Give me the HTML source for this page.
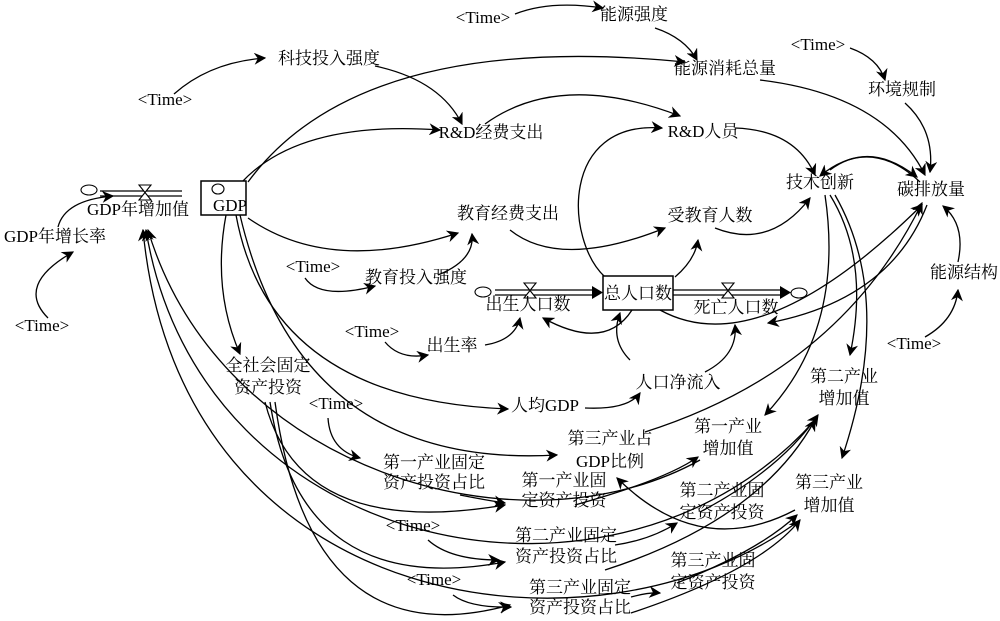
<!DOCTYPE html>
<html><head><meta charset="utf-8"><style>
html,body{margin:0;padding:0;background:#fff;}
svg{display:block}
text{font-family:"Liberation Serif","Noto Serif CJK SC",serif;font-size:17px;fill:#000;text-anchor:middle;dominant-baseline:middle}
.c{fill:none;stroke:#000;stroke-width:1.3}
</style></head><body>
<svg width="1000" height="621" viewBox="0 0 1000 621">
<defs><marker id="a" viewBox="0 0 10 10" refX="9" refY="5" markerWidth="12" markerHeight="12" markerUnits="userSpaceOnUse" orient="auto"><path d="M0,0 L10,5 L0,10 L3,5 z" fill="#000"/></marker></defs>
<g class="c" marker-end="url(#a)">
<!-- top -->
<path d="M515,14 Q550,0 603,8"/>
<path d="M655,28 Q685,38 697,60"/>
<path d="M850,48 Q878,58 885,80"/>
<path d="M760,80 Q885,95 925,175"/>
<path d="M905,103 Q935,130 930,172"/>
<path d="M174,94 Q210,62 265,58"/>
<path d="M375,66 Q440,80 462,124"/>
<path d="M242,182 Q300,120 440,130"/>
<path d="M248,182 Q360,30 685,62"/>
<path d="M485,124 Q560,70 680,116"/>
<path d="M605,277 C565,240 560,120 662,128"/>
<path d="M735,128 Q795,130 815,175"/>
<path d="M830,170 Q870,140 917,177"/>
<path d="M920,182 Q870,135 820,176"/>
<path d="M715,228 Q770,250 810,198"/>
<path d="M958,262 Q966,225 943,206"/>
<path d="M925,337 Q955,320 958,290"/>
<!-- GDP left -->
<path d="M58,227 Q65,200 113,196"/>
<path d="M48,318 Q15,285 73,252"/>
<!-- education / population -->
<path d="M248,218 Q330,275 458,233"/>
<path d="M510,230 Q560,270 665,228"/>
<path d="M305,278 Q320,300 375,286"/>
<path d="M438,275 Q475,260 472,234"/>
<path d="M675,277 Q695,260 698,240"/>
<path d="M385,342 Q400,360 428,355"/>
<path d="M485,345 Q515,340 520,318"/>
<path d="M632,310 Q605,352 543,318"/>
<path d="M630,360 Q610,340 620,313"/>
<path d="M705,372 Q738,355 735,325"/>
<path d="M660,310 Q760,365 922,205"/>
<path d="M927,205 Q890,300 768,323"/>
<path d="M585,408 Q628,410 640,393"/>
<!-- GDP outgoing down -->
<path d="M226,215 Q212,290 240,354"/>
<path d="M236,215 Q270,400 508,409"/>
<path d="M240,215 Q300,470 557,455"/>
<!-- tech innovation to industries -->
<path d="M825,195 Q845,330 765,415"/>
<path d="M830,195 Q870,260 850,355"/>
<path d="M835,195 Q895,300 842,458"/>
<path d="M645,432 Q840,370 922,203"/>
<path d="M795,510 Q700,560 617,478"/>
<!-- investment -->
<path d="M328,418 Q330,450 360,458"/>
<path d="M460,495 Q485,500 505,503"/>
<path d="M265,402 Q300,540 505,505"/>
<path d="M575,505 Q665,480 698,457"/>
<path d="M428,540 Q450,560 499,560"/>
<path d="M270,402 Q300,600 505,562"/>
<path d="M615,545 Q650,540 677,523"/>
<path d="M700,512 Q780,470 818,415"/>
<path d="M605,570 Q760,520 815,420"/>
<path d="M453,595 Q470,608 511,607"/>
<path d="M275,402 Q310,660 510,605"/>
<path d="M631,597 Q650,592 660,593"/>
<path d="M677,583 Q760,550 797,515"/>
<path d="M631,613 Q760,570 800,520"/>
<!-- feedback arcs to GDP年增加值 -->
<path d="M700,460 C520,560 220,470 148,230"/>
<path d="M815,420 C620,640 200,560 146,230"/>
<path d="M800,520 C600,670 180,620 143,230"/>
</g>
<!-- pipes -->
<g stroke="#000" fill="none" stroke-width="1.2">
<path d="M100,191 H182 M100,196 H182"/>
<path d="M495,290 H592 M495,295 H592"/>
<path d="M673,290 H780 M673,295 H780"/>
</g>
<path d="M592,286 L603,292.5 L592,299 z M780,286 L791,292.5 L780,299 z" fill="#000"/>
<g fill="#fff" stroke="#000" stroke-width="1.1">
<path d="M139,185 L151,185 L139,200 L151,200 z"/>
<path d="M524,283 L536,283 L524,298 L536,298 z"/>
<path d="M722,283 L734,283 L722,298 L734,298 z"/>
<ellipse cx="89" cy="190" rx="8" ry="5"/>
<ellipse cx="483" cy="292" rx="8" ry="5"/>
<ellipse cx="799" cy="293" rx="8" ry="5"/>
<rect x="201" y="181" width="45" height="34" stroke-width="1.5"/>
<rect x="603" y="276" width="70" height="34" stroke-width="1.5"/>
<ellipse cx="218" cy="189" rx="6" ry="5"/>
</g>
<g>
<text x="483" y="19">&lt;Time&gt;</text><text x="634" y="16">能源强度</text>
<text x="818" y="46">&lt;Time&gt;</text><text x="725" y="70">能源消耗总量</text>
<text x="329" y="60">科技投入强度</text><text x="165" y="101">&lt;Time&gt;</text>
<text x="902" y="91">环境规制</text>
<text x="491" y="134">R&amp;D经费支出</text><text x="703" y="133">R&amp;D人员</text>
<text x="820" y="184">技术创新</text><text x="931" y="191">碳排放量</text>
<text x="230" y="207">GDP</text>
<text x="138" y="211">GDP年增加值</text><text x="55" y="238">GDP年增长率</text>
<text x="42" y="327">&lt;Time&gt;</text>
<text x="508" y="215">教育经费支出</text><text x="710" y="217">受教育人数</text>
<text x="313" y="268">&lt;Time&gt;</text><text x="416" y="279">教育投入强度</text>
<text x="528" y="306">出生人口数</text><text x="638" y="295">总人口数</text>
<text x="736" y="309">死亡人口数</text><text x="964" y="274">能源结构</text>
<text x="372" y="333">&lt;Time&gt;</text><text x="452" y="347">出生率</text>
<text x="914" y="345">&lt;Time&gt;</text>
<text x="268" y="367">全社会固定</text><text x="268" y="389">资产投资</text>
<text x="678" y="384">人口净流入</text>
<text x="844" y="378">第二产业</text><text x="844" y="400">增加值</text>
<text x="336" y="405">&lt;Time&gt;</text><text x="545" y="407">人均GDP</text>
<text x="610" y="440">第三产业占</text><text x="610" y="463">GDP比例</text>
<text x="728" y="428">第一产业</text><text x="728" y="450">增加值</text>
<text x="434" y="464">第一产业固定</text><text x="434" y="484">资产投资占比</text>
<text x="564" y="482">第一产业固</text><text x="564" y="502">定资产投资</text>
<text x="722" y="492">第二产业固</text><text x="722" y="514">定资产投资</text>
<text x="829" y="484">第三产业</text><text x="829" y="507">增加值</text>
<text x="413" y="527">&lt;Time&gt;</text>
<text x="566" y="537">第二产业固定</text><text x="566" y="558">资产投资占比</text>
<text x="434" y="581">&lt;Time&gt;</text>
<text x="580" y="589">第三产业固定</text><text x="580" y="609">资产投资占比</text>
<text x="713" y="562">第三产业固</text><text x="713" y="584">定资产投资</text>
</g>
</svg>
</body></html>
